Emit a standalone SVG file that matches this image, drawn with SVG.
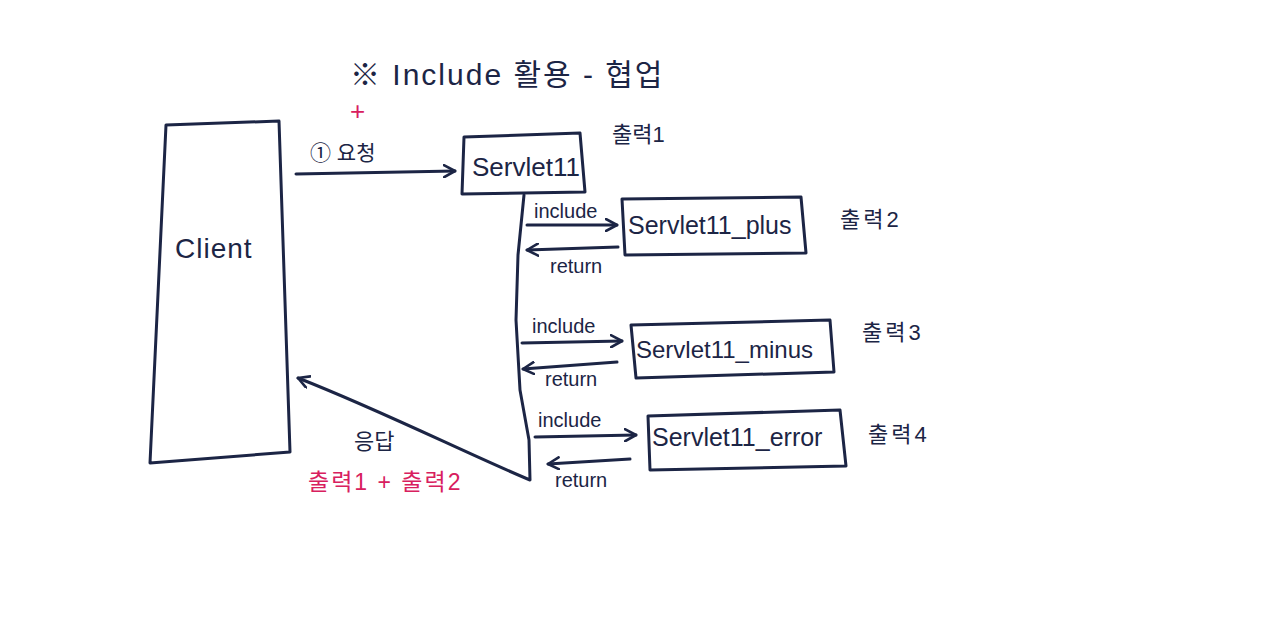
<svg xmlns="http://www.w3.org/2000/svg" width="1280" height="635" viewBox="0 0 1280 635">
<style>
.ln{fill:none;stroke:#1c2545;stroke-width:3;stroke-linecap:round;stroke-linejoin:round}
.t{font-family:"Liberation Sans","Noto Sans CJK KR",sans-serif;fill:#1c2545}
.r{fill:#d8205e}
</style>
<defs>
<marker id="ah" viewBox="0 0 14 14" refX="12" refY="7" markerWidth="14" markerHeight="14" markerUnits="userSpaceOnUse" orient="auto">
<path d="M1,1 L12,7 L1,13" fill="none" stroke="#1c2545" stroke-width="2.6" stroke-linecap="round" stroke-linejoin="round"/>
</marker>
</defs>
<rect width="1280" height="635" fill="#ffffff"/>
<g id="title">
<text class="t" x="350" y="85" font-size="30" letter-spacing="2">※ Include 활용 - 협업</text>
<text class="t r" x="350" y="120" font-size="26">+</text>
</g>
<g id="client">
<path class="ln" d="M166,125 L279,121 L290,452 L150,463 Z"/>
<text class="t" x="175" y="258" font-size="28" letter-spacing="1">Client</text>
</g>
<g id="servlet11">
<path class="ln" d="M464,137 L580,133 L585,192 L462,194 Z"/>
<text class="t" x="472" y="176" font-size="26">Servlet11</text>
<text class="t" x="612" y="142" font-size="22">출력1</text>
</g>
<g id="servlet11_plus">
<path class="ln" d="M622,199 L801,197 L806,253 L625,255 Z"/>
<text class="t" x="628" y="234" font-size="25">Servlet11_plus</text>
<text class="t" x="840" y="227" font-size="22" letter-spacing="3">출력2</text>
</g>
<g id="servlet11_minus">
<path class="ln" d="M631,325 L830,320 L834,372 L636,378 Z"/>
<text class="t" x="636" y="358" font-size="24">Servlet11_minus</text>
<text class="t" x="862" y="340" font-size="22" letter-spacing="3">출력3</text>
</g>
<g id="servlet11_error">
<path class="ln" d="M648,416 L840,410 L846,466 L650,470 Z"/>
<text class="t" x="652" y="446" font-size="25">Servlet11_error</text>
<text class="t" x="868" y="442" font-size="22" letter-spacing="3">출력4</text>
</g>
<g id="connectors">
<path class="ln" d="M296,174 L455,171" marker-end="url(#ah)"/>
<text class="t" x="310" y="160" font-size="21">① 요청</text>
<path class="ln" d="M524,195 L518,255 L516,320 L520,390 L529,440 L530,480 C470,455 380,410 298,378" marker-end="url(#ah)"/>
<path class="ln" d="M527,225 L617,225" marker-end="url(#ah)"/>
<text class="t" x="534" y="218" font-size="20">include</text>
<path class="ln" d="M618,247 L527,250" marker-end="url(#ah)"/>
<text class="t" x="550" y="273" font-size="20">return</text>
<path class="ln" d="M522,343 L622,341" marker-end="url(#ah)"/>
<text class="t" x="532" y="333" font-size="20">include</text>
<path class="ln" d="M617,362 L523,369" marker-end="url(#ah)"/>
<text class="t" x="545" y="386" font-size="20">return</text>
<path class="ln" d="M535,437 L636,435" marker-end="url(#ah)"/>
<text class="t" x="538" y="427" font-size="20">include</text>
<path class="ln" d="M630,459 L548,464" marker-end="url(#ah)"/>
<text class="t" x="555" y="487" font-size="20">return</text>
<text class="t" x="354" y="449" font-size="22">응답</text>
<text class="t r" x="308" y="490" font-size="23" letter-spacing="2">출력1 + 출력2</text>
</g>
</svg>
